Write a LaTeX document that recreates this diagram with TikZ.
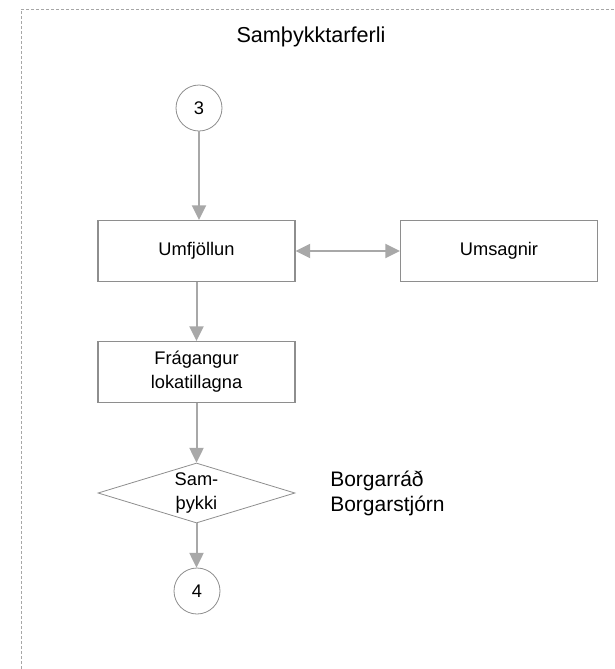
\documentclass[tikz,border=0pt]{standalone}
\usepackage{fontspec}
\setmainfont{Liberation Sans}
\usetikzlibrary{shapes.geometric,arrows.meta}
\definecolor{flowline}{HTML}{A8A8A8}
\definecolor{edgegray}{HTML}{8E8E8E}
\definecolor{framegray}{HTML}{A6A6A6}
\begin{document}
\begin{tikzpicture}[x=0.75pt,y=-0.75pt,
  bodytext/.style={font=\fontsize{13.7pt}{18pt}\selectfont},
  bigtext/.style={font=\fontsize{15.75pt}{18.75pt}\selectfont},
  titletext/.style={font=\fontsize{16.2pt}{19pt}\selectfont},
  stepbox/.style={draw=edgegray, line width=0.8pt, rectangle, inner sep=0pt,
    minimum width=147.75pt, minimum height=45.75pt, align=center, bodytext},
  decision/.style={draw=edgegray, line width=0.6pt, diamond, inner sep=0pt,
    aspect=3.28, minimum width=147.75pt, minimum height=45pt},
  connector/.style={draw=edgegray, line width=0.6pt, circle, inner sep=0pt,
    minimum size=34.5pt, bodytext},
  flow/.style={draw=flowline, line width=1.5pt,
    -{Triangle[length=11pt,width=10.5pt,fill=flowline]}},
  twoway/.style={draw=flowline, line width=1.5pt,
    {Triangle[length=11pt,width=10.5pt,fill=flowline]}-{Triangle[length=11pt,width=10.5pt,fill=flowline]}}
]
\useasboundingbox (0,0) rectangle (615,669);

% dashed page frame (top and left edges)
\draw[framegray, line width=0.75pt, dash pattern=on 2.25pt off 1.5pt]
  (21,669) -- (21,9) -- (615,9);

% title
\node[titletext] (title) at (311,37) {Samþykktarferli};

% flow nodes
\node[connector] (c3) at (199,108) {3};
\node[stepbox] (umfj) at (196.5,251) {Umfjöllun};
\node[stepbox] (ums) at (499,251) {Umsagnir};
\node[stepbox] (frag) at (196.5,372) {Frágangur\\lokatillagna};
\node[decision, label={[bodytext, align=center, inner sep=0pt]center:Sam-\\þykki}] (samp) at (196.5,493) {};
\node[connector] (c4) at (197,591) {4};

% approving bodies
\node[bigtext, anchor=west, align=left, inner sep=0pt] (bodies) at (330,493) {Borgarráð\\Borgarstjórn};

% connectors
\draw[flow] (c3) -- (c3 |- umfj.north);
\draw[twoway] (umfj.east) -- (ums.west);
\draw[flow] (umfj.south) -- (frag.north);
\draw[flow] (frag.south) -- (samp.north);
\draw[flow] (samp.south) -- (samp.south |- c4.north);
\end{tikzpicture}
\end{document}
